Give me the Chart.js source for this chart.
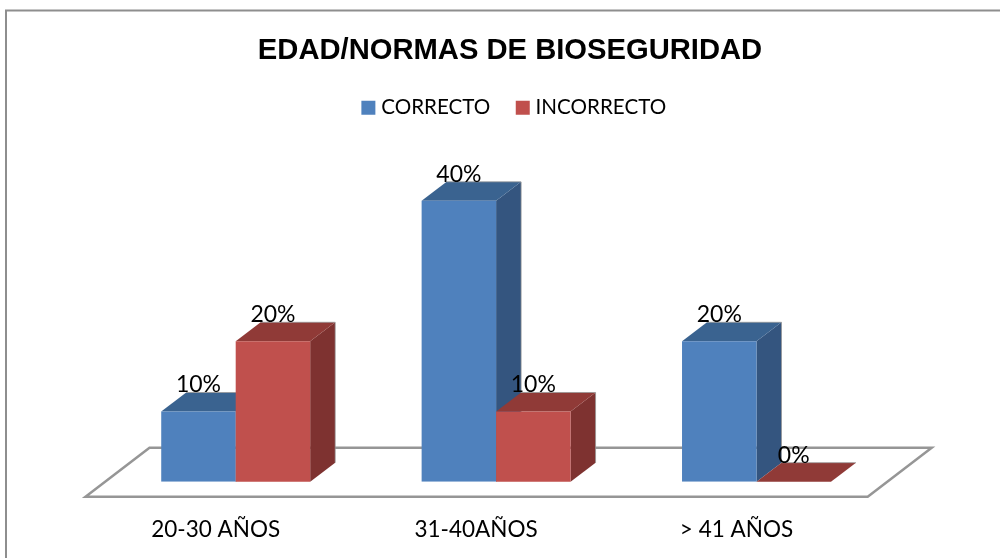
<!DOCTYPE html>
<html>
<head>
<meta charset="utf-8">
<style>
html,body{margin:0;padding:0;background:#fff;overflow:hidden}
#wrap{width:1000px;height:558px;position:relative}
canvas{display:block}
</style>
<script src="https://cdn.jsdelivr.net/npm/chart.js@4"></script>
</head>
<body>
<div id="wrap"><canvas id="c" width="1000" height="558"></canvas></div>
<script>
const categories = ['20-30 AÑOS', '31-40AÑOS', '> 41 AÑOS'];
const correcto = [10, 40, 20];
const incorrecto = [20, 10, 0];
const seriesNames = ['CORRECTO', 'INCORRECTO'];
const chartTitle = 'EDAD/NORMAS DE BIOSEGURIDAD';

const DEPTH_X = 25, DEPTH_Y = 19;
const faces = [
  {top:'#3A6390', side:'#34557F'},
  {top:'#903A37', side:'#7E3230'}
];
const FONT = 'Lato, "Open Sans", sans-serif';

function poly(ctx, pts, fill){
  ctx.beginPath();
  pts.forEach((p,i)=> i?ctx.lineTo(p[0],p[1]):ctx.moveTo(p[0],p[1]));
  ctx.closePath();
  ctx.fillStyle = fill;
  ctx.fill();
}

function drawFaces(chart, index, meta){
  const ctx = chart.ctx, f = faces[index];
  const base = chart.scales.y.getPixelForValue(0);
  ctx.save();
  meta.data.forEach(bar=>{
    const l = bar.x - bar.width/2, r = bar.x + bar.width/2, t = bar.y;
    poly(ctx, [[r,t],[r+DEPTH_X,t-DEPTH_Y],[r+DEPTH_X,base-DEPTH_Y],[r,base]], f.side);
    poly(ctx, [[l,t],[l+DEPTH_X,t-DEPTH_Y],[r+DEPTH_X,t-DEPTH_Y],[r,t]], f.top);
    ctx.beginPath();
    ctx.moveTo(l+DEPTH_X,t-DEPTH_Y);
    ctx.lineTo(r+DEPTH_X,t-DEPTH_Y);
    ctx.lineTo(r+DEPTH_X,base-DEPTH_Y);
    ctx.strokeStyle='rgba(150,150,150,0.75)';
    ctx.lineWidth=1;
    ctx.stroke();
  });
  ctx.restore();
}

const bar3d = {
  id:'bar3d',
  afterLayout(chart){ chart.legend.left += 12; chart.legend.top -= 2.5; },
  beforeDraw(chart){
    const ctx = chart.ctx;
    ctx.save();
    ctx.fillStyle='#fff';
    ctx.fillRect(0,0,chart.width,chart.height);
    ctx.strokeStyle='#8E8E8E';
    ctx.lineWidth=2;
    ctx.strokeRect(6,10.5,1100,700);
    ctx.restore();
  },
  beforeDatasetsDraw(chart){
    const ctx = chart.ctx, xs = chart.scales.x, base = chart.scales.y.getPixelForValue(0);
    const l = xs.left - 20, r = xs.right - 19, front = base + 15, back = base - 34;
    ctx.save();
    ctx.beginPath();
    ctx.moveTo(l, front);
    ctx.lineTo(r, front);
    ctx.lineTo(r + 64, back);
    ctx.lineTo(l + 64, back);
    ctx.closePath();
    ctx.fillStyle='#fff';
    ctx.fill();
    ctx.strokeStyle='#969696';
    ctx.lineWidth=2.5;
    ctx.lineJoin='miter';
    ctx.stroke();
    ctx.restore();
  },
  beforeDatasetDraw(chart, args){
    if (args.index !== 0) return false;   // later series is painted on top, below
    drawFaces(chart, args.index, args.meta);
  },
  afterDatasetsDraw(chart){
    const ctx = chart.ctx;
    const second = chart.getDatasetMeta(1);
    drawFaces(chart, 1, second);
    second.controller.draw();
    ctx.save();
    ctx.font = '23px '+FONT;
    ctx.fillStyle='#000';
    ctx.textAlign='center';
    ctx.textBaseline='alphabetic';
    chart.data.datasets.forEach((ds,i)=>{
      chart.getDatasetMeta(i).data.forEach((bar,j)=>{
        ctx.fillText(ds.data[j]+'%', bar.x, bar.y-19);
      });
    });
    ctx.restore();
  }
};

new Chart(document.getElementById('c'), {
  type:'bar',
  plugins:[bar3d],
  data:{
    labels:categories,
    datasets:[
      {label:seriesNames[0], data:correcto, backgroundColor:'#4F81BD', borderWidth:0, yAxisID:'y'},
      {label:seriesNames[1], data:incorrecto, backgroundColor:'#C0504D', borderWidth:0, yAxisID:'y'}
    ]
  },
  options:{
    responsive:false,
    animation:false,
    layout:{padding:{left:20,right:0,top:0,bottom:0}},
    datasets:{bar:{categoryPercentage:0.572, barPercentage:1}},
    plugins:{
      tooltip:{enabled:false},
      title:{
        display:true,
        text:chartTitle,
        color:'#000',
        font:{family:'"Liberation Sans", Arial, sans-serif', size:29.2, weight:'bold'},
        padding:{top:33,bottom:2}
      },
      legend:{
        display:true,
        position:'top',
        labels:{
          color:'#000',
          font:{family:FONT, size:20.6},
          boxWidth:5,
          boxHeight:5,
          padding:30,
          generateLabels(chart){
            return Chart.defaults.plugins.legend.labels.generateLabels(chart).map(it=>{
              it.lineWidth=9;
              it.strokeStyle=it.fillStyle;
              return it;
            });
          }
        }
      }
    },
    scales:{
      x:{
        grid:{display:false},
        border:{display:false},
        ticks:{color:'#000',font:{family:FONT,size:22.5},padding:27,maxRotation:0,labelOffset:-20},
        afterFit(s){ s.height=76.3; }
      },
      y:{
        min:0,max:50,
        grid:{display:false},
        border:{display:false},
        ticks:{display:false},
        afterFit(s){ s.width=85.5; }
      },
      y2:{
        position:'right',
        grid:{display:false},
        border:{display:false},
        ticks:{display:false},
        afterFit(s){ s.width=113.3; }
      }
    }
  }
});
</script>
</body>
</html>
